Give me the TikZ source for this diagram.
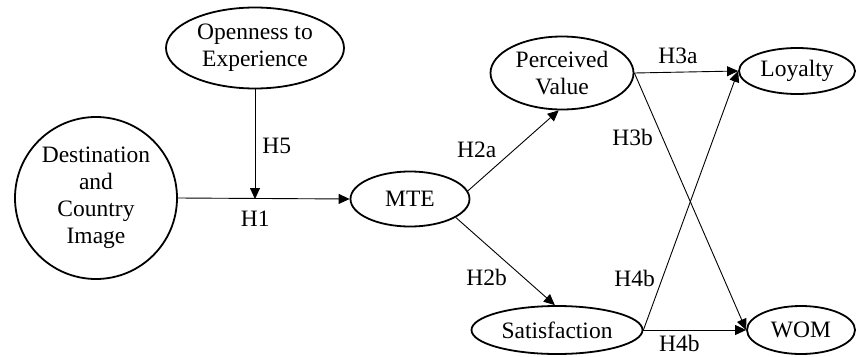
\documentclass[tikz,border=0pt]{standalone}
\usepackage{fontspec}
\setmainfont{Liberation Serif}
\usepackage{tikz}
\usetikzlibrary{arrows.meta, shapes.geometric, positioning}

\begin{document}
\begin{tikzpicture}[
            x=1pt, y=-1pt,
            >={Triangle[length=11pt,width=10pt]},
            font=\fontsize{23.5}{27}\selectfont,
            construct/.style={ellipse, draw, line width=1.8pt, align=center, inner sep=0pt},
            path/.style={->, line width=0.9pt},
            hyp/.style={inner sep=3pt}
        ]

        \useasboundingbox (0,0) rectangle (856,356);

        % Costrutti
        \node[construct, minimum width=178pt, minimum height=81pt] (open) at (255,48) {Openness to\\Experience};
        \node[circle, draw, line width=1.8pt, align=center, minimum size=162pt, inner sep=0pt] (dest) at (96,198) {Destination\\and\\Country\\Image};
        \node[construct, minimum width=119pt, minimum height=55pt] (mte) at (410,199) {MTE};
        \node[construct, minimum width=143pt, minimum height=73pt] (pv) at (562,73) {Perceived\\Value};
        \node[construct, minimum width=171pt, minimum height=48pt] (sat) at (557,330) {Satisfaction};
        \node[construct, minimum width=116pt, minimum height=46pt] (loy) at (797,71) {Loyalty};
        \node[construct, minimum width=108pt, minimum height=48pt] (wom) at (801,330) {WOM};

        % Punto di moderazione
        \coordinate (mod) at (255,199);

        % Ipotesi
        \draw[path] (dest.east) -- node[hyp, below=9pt, pos=0.45] {H1} (mte.west);
        \draw[path] (open.south) -- node[hyp, right=4pt, pos=0.52] {H5} (mod);
        \draw[path] (mte.8) -- node[hyp, above left=2pt and 0pt, pos=0.35] {H2a} (pv.265);
        \draw[path] (mte.-22) -- node[hyp, below left=0pt and 0pt, pos=0.55] {H2b} (sat.95);
        \draw[path] (pv.east) -- node[hyp, above=5pt, pos=0.42] {H3a} (loy.west);
        \draw[path] (pv.east) -- node[hyp, left=6pt, pos=0.25] {H3b} (wom.west);
        \draw[path] (sat.east) -- node[hyp, left=4pt, pos=0.2] {H4b} (loy.west);
        \draw[path] (sat.east) -- node[hyp, below=2pt, pos=0.35] {H4b} (wom.west);

\end{tikzpicture}
\end{document}
